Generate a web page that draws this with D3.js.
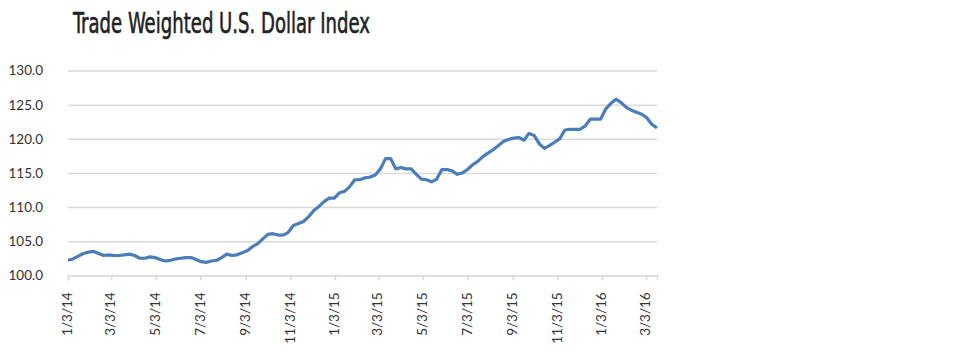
<!DOCTYPE html>
<html>
<head>
<meta charset="utf-8">
<script src="https://cdn.jsdelivr.net/npm/d3@7"></script>
<style>
  body { margin: 0; background: #fff; }
  svg { display: block; }
</style>
</head>
<body>
<svg width="960" height="361"></svg>
<script>
// weekly readings, first week 1/3/14
const startDate = '1/3/14'
const values = [
  102.2, 102.4, 102.8, 103.2, 103.4, 103.5, 103.2, 102.9, 103.0, 102.9,
  102.9, 103.0, 103.1, 102.9, 102.5, 102.5, 102.7, 102.6, 102.3, 102.1,
  102.2, 102.4, 102.5, 102.6, 102.6, 102.3, 102.0, 101.9, 102.1, 102.2,
  102.6, 103.1, 102.9, 103.0, 103.3, 103.6, 104.2, 104.6, 105.3, 106.0,
  106.1, 105.9, 105.9, 106.3, 107.3, 107.6, 107.9, 108.6, 109.5, 110.1,
  110.8, 111.3, 111.3, 112.1, 112.3, 113.0, 114.0, 114.0, 114.3, 114.4,
  114.7, 115.6, 117.1, 117.1, 115.6, 115.8, 115.6, 115.6, 114.8, 114.1,
  114.0, 113.7, 114.1, 115.5, 115.5, 115.3, 114.8, 115.0, 115.5, 116.2,
  116.7, 117.4, 117.9, 118.4, 119.0, 119.6, 119.9, 120.1, 120.2, 119.8,
  120.8, 120.5, 119.3, 118.6, 119.0, 119.5, 120.0, 121.3, 121.4, 121.4,
  121.4, 121.9, 122.9, 122.9, 122.9, 124.4, 125.2, 125.8, 125.3, 124.6,
  124.2, 123.9, 123.6, 123.1, 122.1, 121.6
]
const xTickLabels = ['1/3/14', '3/3/14', '5/3/14', '7/3/14', '9/3/14', '11/3/14', '1/3/15',
  '3/3/15', '5/3/15', '7/3/15', '9/3/15', '11/3/15', '1/3/16', '3/3/16']
const yTicks = [100, 105, 110, 115, 120, 125, 130]

const parse = d3.timeParse('%m/%d/%y')
const t0 = parse(startDate)
const data = values.map((v, i) => ({ date: d3.timeDay.offset(t0, i * 7), value: v }))

const svg = d3.select('svg')
const plotLeft = 68, plotRight = 657, plotTop = 70.6, plotBottom = 275.3

const x = d3.scaleTime()
    .domain(d3.extent(data, d => d.date))
    .range([plotLeft, plotRight])

const y = d3.scaleLinear()
    .domain([100, 130])
    .range([plotBottom, plotTop])

svg.append('text')
    .attr('x', 73)
    .attr('y', 33)
    .attr('font-family', "'Liberation Sans Narrow', 'DejaVu Sans Condensed', sans-serif")
    .attr('font-size', 29)
    .attr('fill', '#222')
    .attr('stroke', '#222')
    .attr('stroke-width', 0.6)
    .attr('textLength', 297)
    .attr('lengthAdjust', 'spacingAndGlyphs')
    .text('Trade Weighted U.S. Dollar Index')

// gridlines + y labels
const yAxis = svg.append('g')
    .attr('transform', `translate(${plotLeft},0)`)
    .call(d3.axisLeft(y).tickValues(yTicks).tickSize(-(plotRight - plotLeft)).tickFormat(d3.format('.1f')).tickPadding(25))
yAxis.select('.domain').remove()
yAxis.selectAll('.tick line')
    .attr('stroke', '#d9d9d9')
    .attr('stroke-width', 1.5)
yAxis.selectAll('.tick text')
    .attr('font-family', 'Lato, sans-serif')
    .attr('font-size', 13.5)
    .attr('fill', '#333')

// x axis
const xAxis = svg.append('g')
    .attr('transform', `translate(0,${plotBottom})`)
    .call(d3.axisBottom(x).tickValues(xTickLabels.map(parse)).tickSize(5).tickFormat(d3.timeFormat('%-m/%-d/%y')))
xAxis.select('.domain')
    .attr('stroke', '#d9d9d9')
    .attr('stroke-width', 1.5)
xAxis.selectAll('.tick line')
    .attr('stroke', '#d9d9d9')
    .attr('stroke-width', 1.5)
xAxis.selectAll('.tick text')
    .attr('font-family', 'Lato, sans-serif')
    .attr('font-size', 13.5)
    .attr('fill', '#333')
    .attr('transform', 'rotate(-90)')
    .attr('text-anchor', 'end')
    .attr('dx', '-17')
    .attr('dy', '-0.1em')
    .attr('x', 0)
    .attr('y', 0)
    .attr('dominant-baseline', 'central')

const line = d3.line()
    .x(d => x(d.date))
    .y(d => y(d.value))

svg.append('path')
    .datum(data)
    .attr('d', line)
    .attr('fill', 'none')
    .attr('stroke', '#4a7ebb')
    .attr('stroke-width', 3.2)
    .attr('stroke-linejoin', 'round')
</script>
</body>
</html>
